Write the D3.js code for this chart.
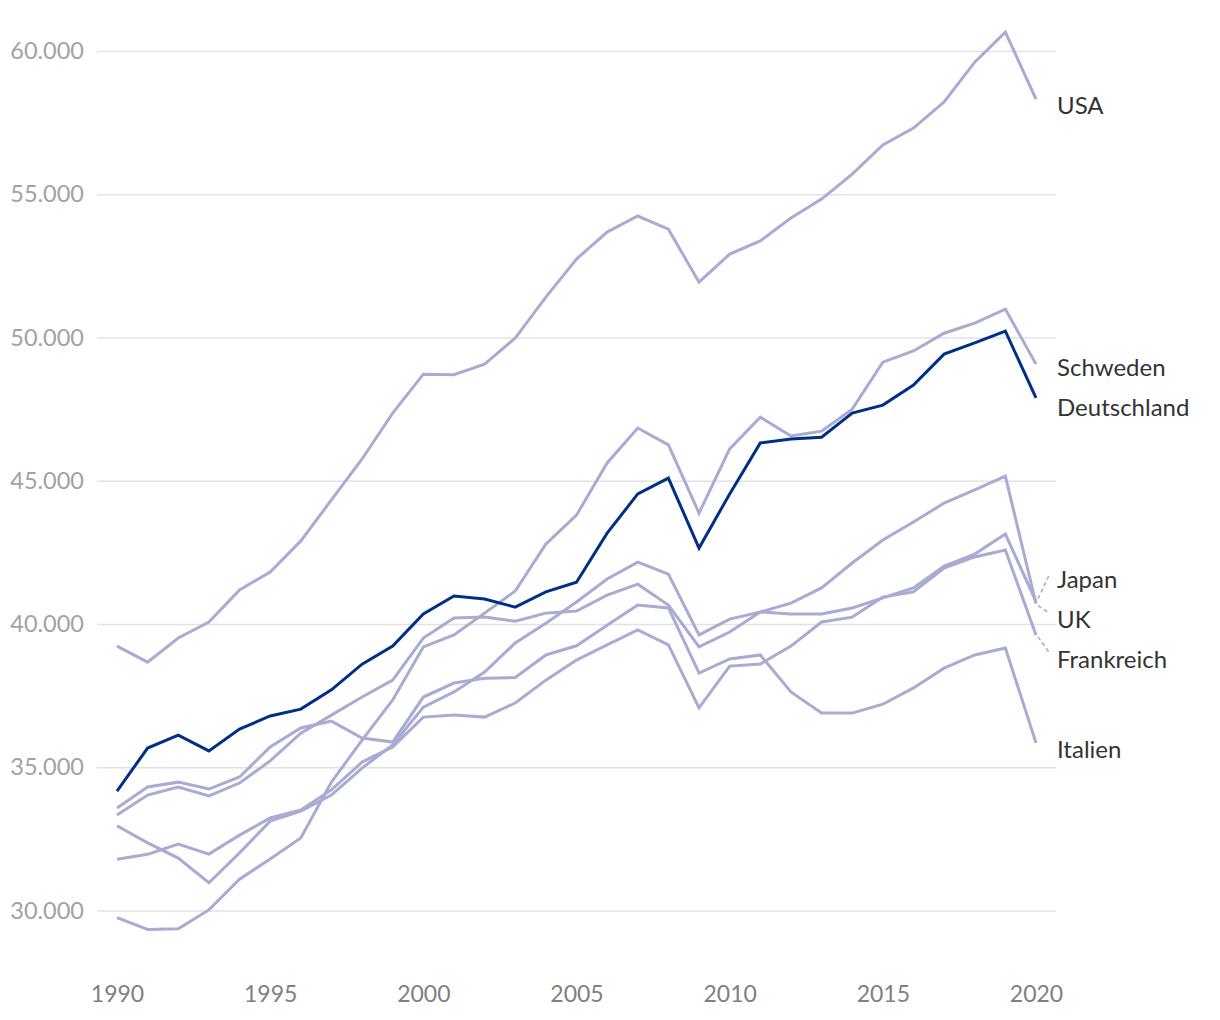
<!DOCTYPE html>
<html>
<head>
<meta charset="utf-8">
<script src="https://cdn.jsdelivr.net/npm/d3@7"></script>
<style>
  html, body { margin: 0; padding: 0; background: #ffffff; }
  svg { display: block; font-family: Lato, "Noto Sans", sans-serif; }
</style>
</head>
<body>
<script>
// ---------- data ----------
const years = [1990,1991,1992,1993,1994,1995,1996,1997,1998,1999,2000,2001,2002,2003,2004,2005,2006,2007,2008,2009,2010,2011,2012,2013,2014,2015,2016,2017,2018,2019,2020];

const usa         = [39230,38670,39510,40070,41190,41810,42900,44330,45760,47360,48720,48700,49070,49980,51410,52740,53680,54240,53780,51930,52910,53370,54170,54830,55700,56720,57310,58220,59610,60660,58320];
const schweden    = [29750,29340,29360,30020,31090,31800,32530,34480,35950,37350,39200,39620,40380,41150,42790,43800,45620,46840,46250,43870,46110,47220,46560,46730,47500,49140,49530,50150,50500,50990,49070];
const deutschland = [34170,35670,36120,35570,36330,36790,37030,37700,38600,39230,40350,40980,40870,40590,41120,41460,43170,44540,45090,42650,44540,46320,46460,46520,47360,47640,48340,49420,49810,50220,47890];
const japan       = [33330,34030,34310,34000,34450,35220,36190,36820,37450,38040,39510,40210,40240,40100,40380,40450,41010,41390,40660,39200,39720,40420,40350,40350,40560,40910,41260,42020,42440,43140,40780];
const uk          = [32960,32360,31830,30970,32010,33120,33470,34030,34970,35780,37100,37630,38320,39340,40030,40770,41570,42160,41740,39620,40170,40420,40730,41260,42130,42930,43560,44220,44680,45160,40710];
const frankreich  = [31790,31960,32320,31970,32630,33230,33510,34210,35180,35710,36750,36820,36750,37240,38040,38740,39270,39790,39270,37070,38530,38600,39230,40070,40240,40940,41120,41950,42340,42580,39620];
const italien     = [33580,34310,34480,34240,34660,35710,36370,36610,36020,35880,37450,37940,38110,38130,38920,39240,39960,40660,40560,38290,38780,38920,37630,36890,36890,37200,37770,38460,38920,39160,35850];

const seriesNames = ["USA","Schweden","Deutschland","Japan","UK","Frankreich","Italien"];
const seriesValues = [usa, schweden, deutschland, japan, uk, frankreich, italien];
const highlighted = "Deutschland";

const xTickValues = [1990,1995,2000,2005,2010,2015,2020];
const yTickValues = [30000,35000,40000,45000,50000,55000,60000];

// ---------- layout ----------
const W = 1220, H = 1020;
const lightColor = "#a8abd2";
const darkColor = "#002f86";

const x = d3.scaleLinear().domain([1990, 2020]).range([117, 1036]);
const y = d3.scaleLinear().domain([30000, 60000]).range([910.5, 51]);

const svg = d3.select("body").append("svg").attr("width", W).attr("height", H);

const locale = d3.formatLocale({decimal: ",", thousands: ".", grouping: [3], currency: ["", " €"]});
const fmt = locale.format(",");

// gridlines + y labels
const yAxis = d3.axisLeft(y).tickValues(yTickValues).tickSize(-(1056 - 97)).tickFormat(fmt).tickPadding(13);
const gy = svg.append("g").attr("transform", "translate(97,0)").call(yAxis);
gy.select(".domain").remove();
gy.selectAll(".tick line").attr("stroke", "#e2e2e2").attr("stroke-width", 1.5);
gy.selectAll(".tick text").attr("fill", "#a2a2a2").attr("font-size", 23.5).attr("font-family", "Lato");

// x labels
const xAxis = d3.axisBottom(x).tickValues(xTickValues).tickFormat(d3.format("d")).tickSize(0).tickPadding(0);
const gx = svg.append("g").attr("transform", "translate(0,1002)").call(xAxis);
gx.select(".domain").remove();
gx.selectAll(".tick text").attr("fill", "#808080").attr("font-size", 23).attr("font-family", "Lato").attr("dy", "0");

// lines
const series = seriesNames.map((name, i) => ({name, values: seriesValues[i].map((v, j) => ({year: years[j], value: v}))}));
const line = d3.line().x(d => x(d.year)).y(d => y(d.value));

const ordered = series.filter(s => s.name !== highlighted).concat(series.filter(s => s.name === highlighted));
svg.append("g").selectAll("path").data(ordered).join("path")
  .attr("d", d => line(d.values))
  .attr("fill", "none")
  .attr("stroke", d => d.name === highlighted ? darkColor : lightColor)
  .attr("stroke-width", 3)
  .attr("stroke-linejoin", "miter")
  .attr("stroke-linecap", "butt");

// labels with collision avoidance
const gap = 40;
const labels = series.map(s => {
  const last = s.values[s.values.length - 1];
  return {name: s.name, endX: x(last.year), endY: y(last.value), target: y(last.value)};
}).sort((a, b) => a.target - b.target);

let clusters = labels.map(l => ({items: [l], mean: l.target}));
let changed = true;
while (changed) {
  changed = false;
  for (let i = 0; i < clusters.length - 1; i++) {
    const a = clusters[i], b = clusters[i + 1];
    const aBottom = a.mean + (a.items.length - 1) * gap / 2;
    const bTop = b.mean - (b.items.length - 1) * gap / 2;
    if (bTop - aBottom < gap) {
      const items = a.items.concat(b.items);
      const mean = d3.mean(items, d => d.target);
      clusters.splice(i, 2, {items, mean});
      changed = true;
      break;
    }
  }
}
clusters.forEach(c => {
  const start = c.mean - (c.items.length - 1) * gap / 2;
  c.items.forEach((it, k) => { it.anchor = start + k * gap; });
});

const lg = svg.append("g");
labels.forEach(l => {
  if (Math.abs(l.anchor - l.endY) > 5) {
    const x0 = l.endX + 2, x1 = l.endX + 14;
    lg.append("line")
      .attr("x1", x0).attr("y1", l.endY + (l.anchor > l.endY ? 2 : -3))
      .attr("x2", x1).attr("y2", l.anchor)
      .attr("stroke", lightColor).attr("stroke-width", 1.6)
      .attr("stroke-dasharray", "4,3");
  }
  lg.append("text")
    .attr("x", 1057).attr("y", l.anchor + 15)
    .attr("fill", "#333333").attr("font-size", 24).attr("font-family", "Lato")
    .text(l.name);
});
</script>
</body>
</html>
